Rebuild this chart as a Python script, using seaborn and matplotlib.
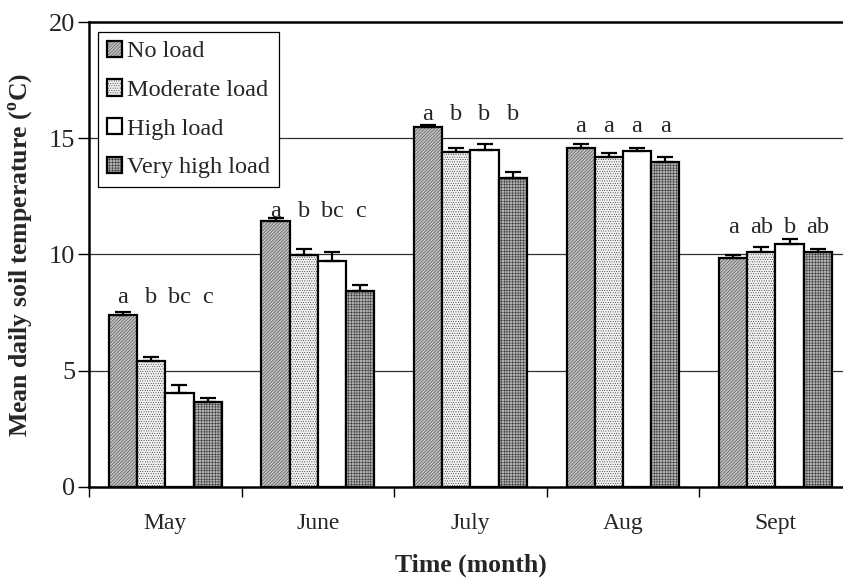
import numpy as np
import pandas as pd
import matplotlib
matplotlib.use("Agg")
import matplotlib.pyplot as plt
import seaborn as sns
from matplotlib.patches import Patch

months = ["May", "June", "July", "Aug", "Sept"]
treatments = ["No load", "Moderate load", "High load", "Very high load"]
no_load = [7.4, 11.45, 15.5, 14.6, 9.83]
moderate_load = [5.4, 9.98, 14.4, 14.2, 10.12]
high_load = [4.03, 9.73, 14.5, 14.45, 10.47]
very_high_load = [3.67, 8.44, 13.3, 14.0, 10.09]
err_no = [0.11, 0.11, 0.06, 0.14, 0.15]
err_mod = [0.2, 0.24, 0.18, 0.18, 0.19]
err_high = [0.35, 0.38, 0.25, 0.12, 0.19]
err_vhigh = [0.16, 0.24, 0.24, 0.19, 0.13]
letters_no = ["a", "a", "a", "a", "a"]
letters_mod = ["b", "b", "b", "a", "ab"]
letters_high = ["bc", "bc", "b", "a", "b"]
letters_vhigh = ["c", "c", "b", "a", "ab"]
letter_heights = [7.9, 11.6, 15.78, 15.28, 10.92]
yticks = [0, 5, 10, 15, 20]

values = [no_load, moderate_load, high_load, very_high_load]
errs = [err_no, err_mod, err_high, err_vhigh]
letters = [letters_no, letters_mod, letters_high, letters_vhigh]

rows = []
for t, vals, es in zip(treatments, values, errs):
    for m, v, e in zip(months, vals, es):
        rows.append({"month": m, "treatment": t, "temp": v, "err": e})
df = pd.DataFrame(rows)

sns.set_style("white")
plt.rcParams["font.family"] = ["Liberation Serif", "DejaVu Serif"]
plt.rcParams["mathtext.fontset"] = "custom"
plt.rcParams["mathtext.rm"] = "Liberation Serif"
plt.rcParams["mathtext.bf"] = "Liberation Serif:bold"
plt.rcParams["hatch.linewidth"] = 0.25

fig = plt.figure(figsize=(8.43, 5.87), dpi=100)
ax = fig.add_axes([0.1056, 0.1704, 0.9048, 0.7921])

faces = ["#c0c0c0", "#f0f0f0", "#ffffff", "#b0b0b0"]
hatches = ["//////////", ".......", "", "++++++"]
palette = dict(zip(treatments, faces))

sns.barplot(data=df, x="month", y="temp", hue="treatment", order=months,
            hue_order=treatments, palette=palette, width=0.74, gap=0,
            errorbar=None, edgecolor="black", linewidth=1.6, saturation=1,
            legend=False, ax=ax, zorder=3)

# hatches and error bars
bar_containers = list(ax.containers)[:len(treatments)]
for ti, cont in enumerate(bar_containers):
    for mi, bar in enumerate(cont.patches):
        bar.set_hatch(hatches[ti])
        bar.set_zorder(3)
        cx = bar.get_x() + bar.get_width() / 2
        top = bar.get_height()
        ax.errorbar([cx], [top], yerr=[[0], [errs[ti][mi]]], fmt="none",
                    ecolor="black", elinewidth=1.6, capsize=6, capthick=1.6,
                    zorder=4)
        ax.text(cx, letter_heights[mi], letters[ti][mi], ha="center",
                va="baseline", fontsize=17.5, zorder=5)

ax.set_ylim(0, 20)
ax.set_xlim(-0.5, 4.5)
ax.set_yticks(yticks)
ax.set_yticklabels([str(v) for v in yticks])
for v in [5, 10, 15]:
    ax.axhline(v, color="#303030", lw=0.9, zorder=1)

ax.set_xticks(range(len(months)))
ax.set_xticklabels(months)
ax.set_xticks(np.arange(-0.5, 5.0, 1.0), minor=True)
ax.tick_params(axis="x", which="major", length=0, labelsize=17, pad=19)
ax.tick_params(axis="x", which="minor", length=7, width=1, color="black",
               direction="out", bottom=True)
ax.tick_params(axis="y", which="major", length=8, width=1, color="black",
               direction="out", left=True, labelsize=19, pad=2)

for s in ax.spines.values():
    s.set_color("black")
    s.set_linewidth(1.8)

ax.set_xlabel("Time (month)", fontsize=18.5, fontweight="bold", labelpad=14)
ax.set_ylabel(r"Mean daily soil temperature ($^{\mathbf{o}}$C)", fontsize=18.5,
              fontweight="bold", labelpad=10)

handles = [Patch(facecolor=f, edgecolor="black", hatch=h, linewidth=1.6)
           for f, h in zip(faces, hatches)]
leg = ax.legend(handles, treatments, loc="upper left",
                bbox_to_anchor=(0.012, 0.978), borderaxespad=0,
                fontsize=17.5, handlelength=0.65, handleheight=0.65,
                handletextpad=0.2, labelspacing=0.7, borderpad=0.35,
                fancybox=False, framealpha=1, edgecolor="black")
leg.get_frame().set_linewidth(0.9)
leg.set_zorder(6)

fig.savefig("out.png", dpi=100)
